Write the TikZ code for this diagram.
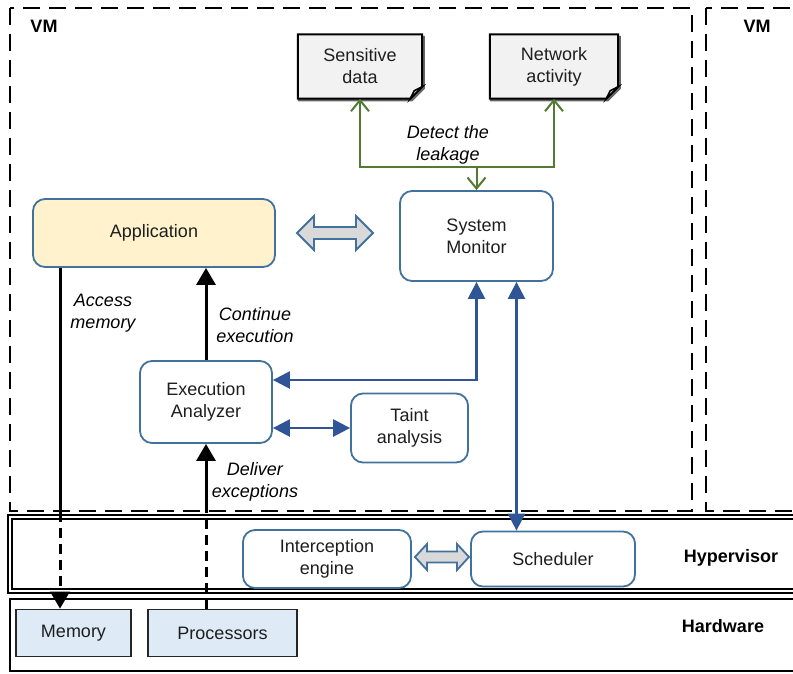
\documentclass[tikz,border=0pt]{standalone}
\usepackage{fontspec}
\setmainfont{Liberation Sans}
\usetikzlibrary{arrows.meta,calc,backgrounds}

\definecolor{boxblue}{RGB}{65,113,156}
\definecolor{arrowblue}{RGB}{47,85,151}
\definecolor{appfill}{RGB}{255,242,204}
\definecolor{hwfill}{RGB}{222,235,247}
\definecolor{docfill}{RGB}{242,242,242}
\definecolor{foldgray}{RGB}{200,200,200}
\definecolor{leafgreen}{RGB}{84,122,50}
\definecolor{arrowgray}{RGB}{217,217,217}
\definecolor{inktext}{RGB}{30,30,30}

\tikzset{
  box/.style={draw=boxblue, line width=1.8pt, rounded corners=12pt, fill=white,
              align=center, text=inktext, inner sep=0pt},
  hwbox/.style={draw=black!85, line width=1.7pt, fill=hwfill, align=center,
                text=inktext, inner sep=0pt},
  doc/.style={align=center, inner sep=0pt, text=inktext,
              minimum width=124pt, minimum height=64pt},
  docline/.style={draw=black, line width=2pt, line join=miter},
  lbl/.style={font=\fontsize{18}{22}\selectfont\itshape, align=center},
  layer/.style={font=\fontsize{18}{22}\selectfont\bfseries},
  vmdash/.style={line width=2.8pt, dash pattern=on 17pt off 9pt},
  blk/.style={line width=3pt, black},
  blkdash/.style={line width=3pt, black, dash pattern=on 10pt off 6pt},
  blktip/.style={-{Triangle[length=17pt,width=19pt]}},
  blu/.style={line width=2.5pt, arrowblue,
              {Triangle[length=17pt,width=17pt]}-{Triangle[length=17pt,width=17pt]}},
  grn/.style={line width=2pt, leafgreen, -{Straight Barb[length=11pt,width=18pt]}},
  grayarr/.style={draw=boxblue, line width=1.8pt, fill=arrowgray, line join=miter},
}

% document icon with a folded lower right corner
\newcommand\docshape[1]{%
  \begin{pgfonlayer}{background}
    \draw[line width=2.4pt, black!60]
      ([shift={(1.5pt,-1.5pt)}]#1.north east) -- ([shift={(1.5pt,10.5pt)}]#1.south east)
      -- ([shift={(-10.5pt,-1.5pt)}]#1.south east) -- ([shift={(0pt,-1.5pt)}]#1.south west);
    \draw[docline, fill=docfill] (#1.north west) -- (#1.north east)
      -- ([yshift=12pt]#1.south east) -- ([xshift=-12pt]#1.south east)
      -- (#1.south west) -- cycle;
    \draw[line width=1.6pt, fill=foldgray] ([xshift=-12pt]#1.south east)
      -- ([shift={(-8pt,8pt)}]#1.south east) -- ([yshift=12pt]#1.south east) -- cycle;
  \end{pgfonlayer}}

\begin{document}
\begin{tikzpicture}[x=1pt, y=-1pt, font=\fontsize{18}{22}\selectfont]
  \clip (0,0) rectangle (793,673);

  % virtual machines
  \draw[vmdash] (10,8) rectangle (692,511);
  \draw[vmdash] (706,8) rectangle (830,511);
  \node[layer] (vm1) at (44,26) {VM};
  \node[layer] (vm2) at (757,26) {VM};

  % hypervisor and hardware layers
  \draw[line width=2pt, double=white, double distance=1.2pt] (10,517) rectangle (830,591);
  \draw[line width=2.6pt] (10,599) rectangle (830,671);
  \node[layer] (hv) at (731,558) {Hypervisor};
  \node[layer] (hw) at (723,626) {Hardware};

  % documents
  \node[doc] (sd) at (360,66.5) {Sensitive\\data};
  \node[doc, minimum width=128pt] (na) at (554,66.5) {Network\\activity};
  \docshape{sd}
  \docshape{na}

  % components
  \node[box, fill=appfill, minimum width=242pt, minimum height=68pt] (app) at (154,233) {Application};
  \node[box, minimum width=153pt, minimum height=90pt] (sm) at (476.5,236) {System\\Monitor};
  \node[box, minimum width=132pt, minimum height=82pt] (ea) at (206,402) {Execution\\Analyzer};
  \node[box, minimum width=117pt, minimum height=69pt] (ta) at (409.5,428) {Taint\\analysis};
  \node[box, minimum width=168pt, minimum height=58pt] (ie) at (327,559) {Interception\\engine};
  \node[box, minimum width=164pt, minimum height=55pt] (sch) at (553,559) {Scheduler};
  \node[hwbox, minimum width=115pt, minimum height=47pt] (mem) at (73.5,633) {Memory};
  \node[hwbox, minimum width=149pt, minimum height=47pt] (proc) at (222.5,633) {Processors};

  % wide two-way arrows
  \draw[grayarr, shift={(335,233)}] (-38,0) -- (-21,-17) -- (-21,-6) -- (21,-6) -- (21,-17)
    -- (38,0) -- (21,17) -- (21,6) -- (-21,6) -- (-21,17) -- cycle;
  \draw[grayarr, shift={(442,557)}] (-27,0) -- (-15,-13) -- (-15,-5.5) -- (15,-5.5) -- (15,-13)
    -- (27,0) -- (15,13) -- (15,5.5) -- (-15,5.5) -- (-15,13) -- cycle;

  % leakage detection
  \coordinate (gy) at (0,167);
  \coordinate (gj) at (sm.north |- gy);
  \draw[grn] (gj) -| (sd.south);
  \draw[grn] (gj) -| (na.south);
  \draw[grn] (gj) -- (sm.north);
  \node[lbl] (detect) at (448,145) {Detect the\\leakage};

  % monitor links
  \draw[blu] (sm.south) |- ([yshift=22pt]ea.east);
  \draw[blu] (ea.east |- ta.west) -- (ta.west);
  \draw[blu] ([xshift=40pt]sm.south) -- ([xshift=40pt]sm.south |- sch.north);

  % execution flow
  \coordinate (cut) at (0,512);
  \coordinate (mx) at (60,0);
  \draw[blk, blktip] (ea.north) -- (ea.north |- app.south);
  \draw[blk] (app.south -| mx) -- (mx |- cut);
  \draw[blkdash, blktip] (mx |- cut) -- (mem.north -| mx);
  \draw[blkdash] (proc.north -| ea.south) -- (ea.south |- cut);
  \draw[blk, blktip] (ea.south |- cut) -- (ea.south);

  \node[lbl] (access) at (103,313) {Access\\memory};
  \node[lbl] (cont) at (255,325) {Continue\\execution};
  \node[lbl] (deliver) at (255,482) {Deliver\\exceptions};
\end{tikzpicture}
\end{document}
